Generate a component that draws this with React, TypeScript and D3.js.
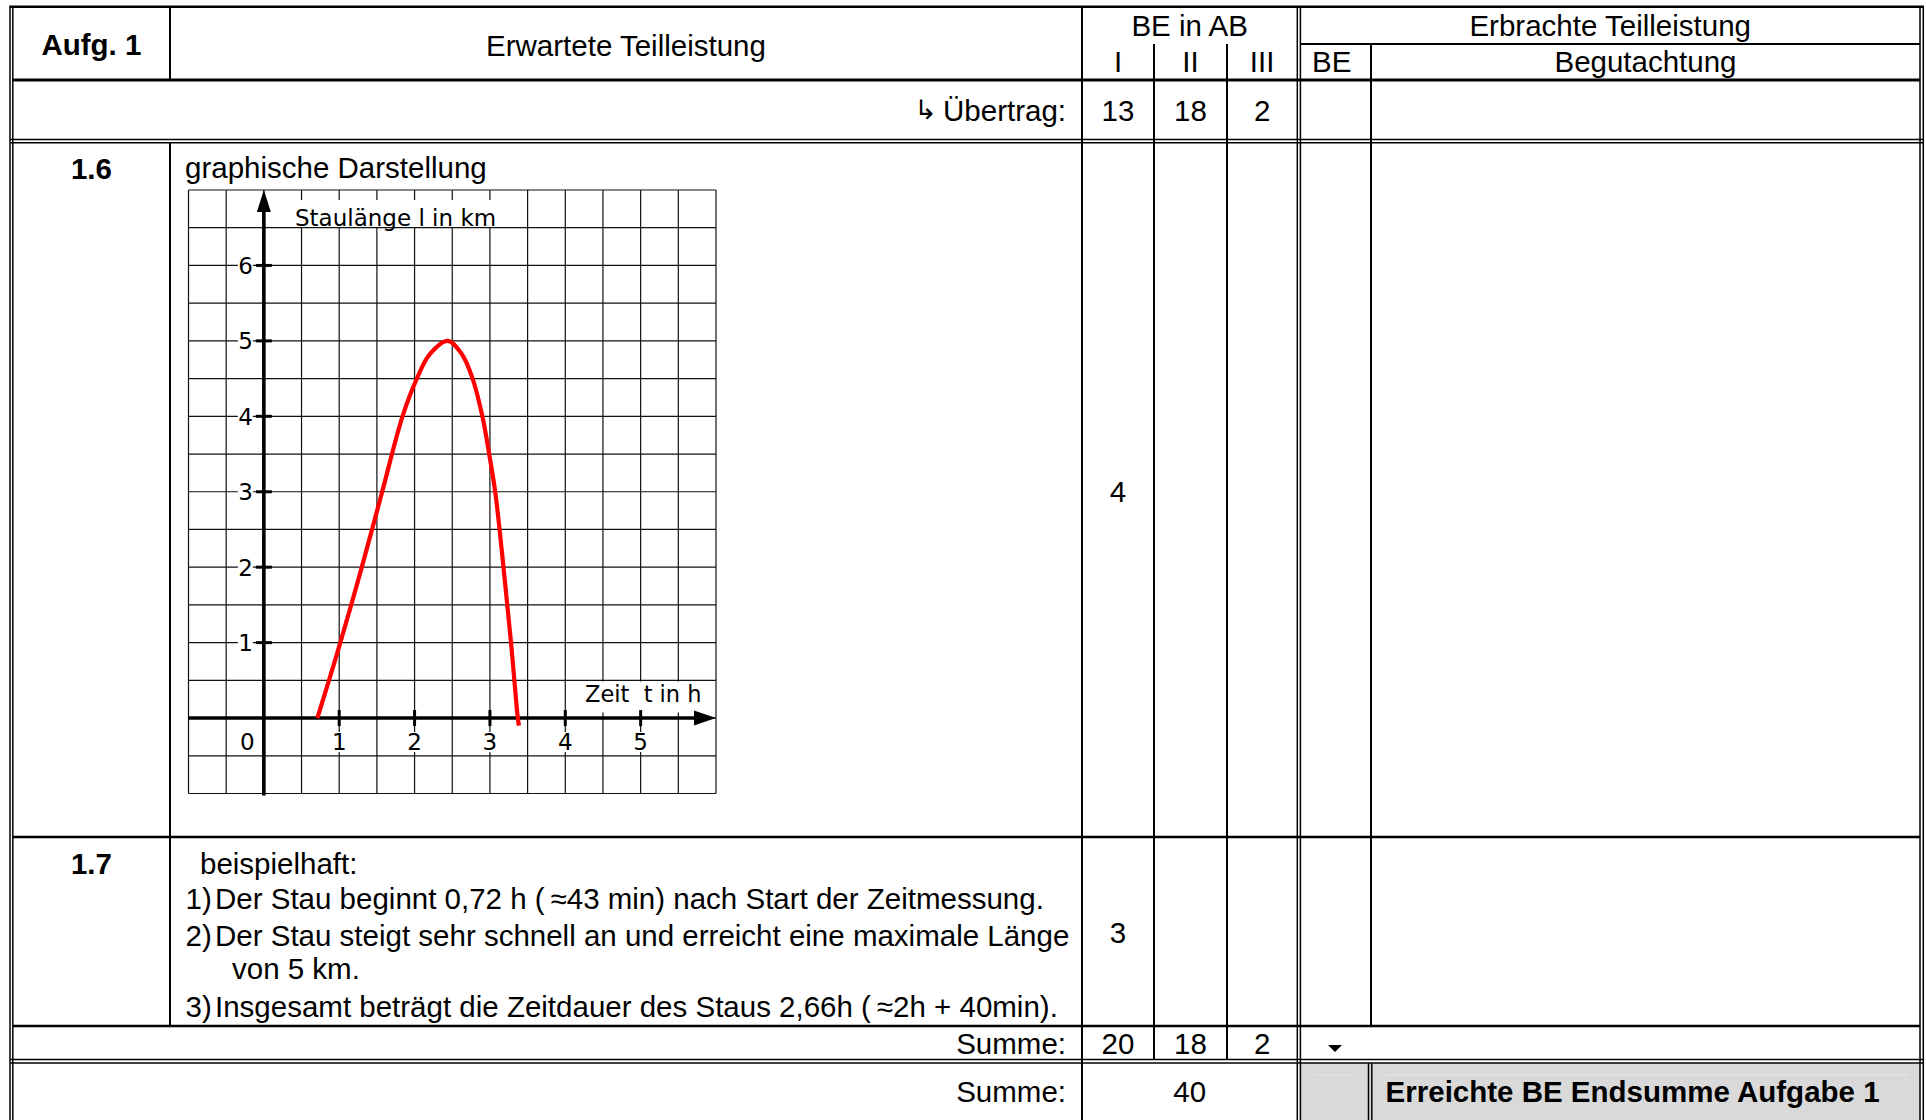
import React from 'react';
import * as d3 from 'd3';

// ---------- data ----------
const beLevels = ['I', 'II', 'III'];
const uebertrag = [13, 18, 2];
const punkte16 = [4];
const punkte17 = [3];
const summe = [20, 18, 2];
const gesamt = 40;

const xTicks = [1, 2, 3, 4, 5];
const yTicks = [1, 2, 3, 4, 5, 6];

// Staulänge l (km) over time t (h)
const tValues = [0.71, 1.0, 1.3, 1.57, 1.84, 2.03, 2.2, 2.44, 2.63, 2.77, 2.9, 2.99, 3.07, 3.18, 3.28, 3.37, 3.385];
const lValues = [0, 0.95, 2.0, 3.0, 4.0, 4.5, 4.82, 5.0, 4.82, 4.5, 4.0, 3.5, 3.0, 2.0, 1.0, 0, -0.1];

const text17 = [
  { num: '1)', body: 'Der Stau beginnt 0,72 h (\u2009\u224843 min) nach Start der Zeitmessung.' },
  { num: '2)', body: 'Der Stau steigt sehr schnell an und erreicht eine maximale Länge' },
  { num: '', body: 'von 5 km.' },
  { num: '3)', body: 'Insgesamt beträgt die Zeitdauer des Staus 2,66h (\u2009\u22482h + 40min).' },
];

// ---------- layout ----------
const W = 1926;
const H = 1120;
const FONT = "'Liberation Sans', Arial, sans-serif";
const CFONT = "'DejaVu Sans', Verdana, sans-serif";
const FS = 29.5;

const X = { l1: 10, l2: 12.8, aufg: 170, cI: 1082, cII: 1154, cIII: 1227, d1: 1297.3, d2: 1300.4, beg: 1371, r1: 1920, r2: 1923.3 };
const Y = { top: 6.7, sub: 44, head: 80, u1: 139.6, u2: 142.8, r16: 837, r17: 1026, s1: 1059.6, s2: 1063, bot: 1120 };
const colCenters = [(X.cI + X.cII) / 2, (X.cII + X.cIII) / 2, (X.cIII + X.d1) / 2];
const lineOffsets17 = [0, 37, 70, 108];

export default function App() {
  const xs = d3.scaleLinear().domain([-1, 6]).range([188.5, 716]);
  const ys = d3.scaleLinear().domain([-1, 7]).range([793.5, 190]);
  const gridX = d3.range(-1, 6.01, 0.5);
  const gridY = d3.range(-1, 7.01, 0.5);
  const pts: [number, number][] = tValues.map((t, i) => [t, lValues[i]]);
  const line = d3.line<[number, number]>().x(d => xs(d[0])).y(d => ys(d[1])).curve(d3.curveCatmullRom.alpha(0.5));

  const hl = (y: number, x1: number, x2: number, w: number, k: string) => (
    <line key={k} x1={x1} x2={x2} y1={y} y2={y} stroke="#000" strokeWidth={w} />
  );
  const vl = (x: number, y1: number, y2: number, w: number, k: string) => (
    <line key={k} x1={x} x2={x} y1={y1} y2={y2} stroke="#000" strokeWidth={w} />
  );

  const x0 = xs(0);
  const y0 = ys(0);
  const tsz = 23;

  return (
    <svg width={W} height={H} viewBox={`0 0 ${W} ${H}`} style={{ position: 'absolute', left: 0, top: 0, background: '#fff' }}>
      <rect x={0} y={0} width={W} height={H} fill="#fff" />
      {/* gray final cells */}
      <rect x={X.d2} y={Y.s2} width={X.r1 - X.d2} height={H - Y.s2} fill="#d9d9d9" />
      <line x1={1385} x2={1908} y1={1075} y2={1075} stroke="#e9e9e9" strokeWidth={1.2} />
      <line x1={1313} x2={1357} y1={1075} y2={1075} stroke="#e3e3e3" strokeWidth={1} />

      {/* ---------- table lines ---------- */}
      {hl(Y.top, X.l1 - 0.7, X.r2 + 0.7, 2.6, 'top')}
      {hl(Y.sub, X.d2, X.r1, 2, 'sub')}
      {hl(Y.head, X.l2, X.r1, 3, 'head')}
      {hl(Y.u1, X.l1, X.r2, 1.5, 'u1')}
      {hl(Y.u2, X.l1, X.r2, 1.5, 'u2')}
      {hl(Y.r16, X.l2, X.r1, 2.5, 'r16')}
      {hl(Y.r17, X.l2, X.r1, 2.5, 'r17')}
      {hl(Y.s1, X.l1, X.r2, 1.5, 's1')}
      {hl(Y.s2, X.l1, X.r2, 1.5, 's2')}

      {vl(X.l1, Y.top, H, 1.5, 'l1')}
      {vl(X.l2, Y.top, H, 1.5, 'l2')}
      {vl(X.r1, Y.top, H, 1.5, 'r1')}
      {vl(X.r2, Y.top, H, 1.5, 'r2')}
      {vl(X.aufg, Y.top, Y.head, 2, 'a1')}
      {vl(X.aufg, Y.u2, Y.r17, 2, 'a2')}
      {vl(X.cI, Y.top, H, 2, 'cI')}
      {vl(X.cII, Y.sub, Y.s1, 2, 'cII')}
      {vl(X.cIII, Y.sub, Y.s1, 2, 'cIII')}
      {vl(X.d1, Y.top, H, 1.5, 'd1')}
      {vl(X.d2, Y.top, H, 1.5, 'd2')}
      {vl(X.beg, Y.sub, Y.r17, 2, 'beg')}
      {vl(1368.5, Y.s2, H, 1.5, 'g1')}
      {vl(1371.8, Y.s2, H, 1.5, 'g2')}

      {/* ---------- header texts ---------- */}
      <g fontFamily={FONT} fontSize={FS} fill="#000">
        <text x={(X.l2 + X.aufg) / 2} y={55} textAnchor="middle" fontWeight="bold">Aufg. 1</text>
        <text x={(X.aufg + X.cI) / 2} y={56} textAnchor="middle">Erwartete Teilleistung</text>
        <text x={(X.cI + X.d1) / 2} y={36} textAnchor="middle">BE in AB</text>
        {beLevels.map((b, i) => (
          <text key={b} x={colCenters[i]} y={72} textAnchor="middle">{b}</text>
        ))}
        <text x={(X.d2 + X.r1) / 2} y={36} textAnchor="middle">Erbrachte Teilleistung</text>
        <text x={1312} y={72}>BE</text>
        <text x={(X.beg + X.r1) / 2} y={72} textAnchor="middle">Begutachtung</text>

        {/* Übertrag */}
        <text x={X.cI - 16} y={121} textAnchor="end">Übertrag:</text>
        {uebertrag.map((v, i) => (
          <text key={'u' + i} x={colCenters[i]} y={121} textAnchor="middle">{v}</text>
        ))}

        {/* 1.6 */}
        <text x={(X.l2 + X.aufg) / 2} y={179} textAnchor="middle" fontWeight="bold">1.6</text>
        <text x={185} y={178}>graphische Darstellung</text>
        {punkte16.map((v, i) => (
          <text key={'p16' + i} x={colCenters[i]} y={502} textAnchor="middle">{v}</text>
        ))}

        {/* 1.7 */}
        <text x={(X.l2 + X.aufg) / 2} y={874} textAnchor="middle" fontWeight="bold">1.7</text>
        <text x={200} y={874}>beispielhaft:</text>
        {text17.map((r, i) => (
          <g key={'t17' + i}>
            {r.num && <text x={185.5} y={909 + lineOffsets17[i]}>{r.num}</text>}
            <text x={r.num ? 215 : 232} y={909 + lineOffsets17[i]}>{r.body}</text>
          </g>
        ))}
        {punkte17.map((v, i) => (
          <text key={'p17' + i} x={colCenters[i]} y={943} textAnchor="middle">{v}</text>
        ))}

        {/* Summe */}
        <text x={X.cI - 16} y={1054} textAnchor="end">Summe:</text>
        {summe.map((v, i) => (
          <text key={'s' + i} x={colCenters[i]} y={1054} textAnchor="middle">{v}</text>
        ))}
        <text x={X.cI - 16} y={1102} textAnchor="end">Summe:</text>
        <text x={(X.cI + X.d1) / 2} y={1102} textAnchor="middle">{gesamt}</text>
        <text x={1385.6} y={1102} fontWeight="bold">Erreichte BE Endsumme Aufgabe 1</text>
      </g>
      <text x={925.5} y={119} fontFamily={CFONT} fontSize={27} textAnchor="middle">↳</text>
      <path d="M1328,1045 L1342,1045 L1335,1052 Z" fill="#000" />

      {/* ---------- chart ---------- */}
      <g>
        {gridX.map(v => (
          <line key={'gx' + v} x1={xs(v)} x2={xs(v)} y1={ys(7)} y2={ys(-1)} stroke="#111" strokeWidth={1.2} />
        ))}
        {gridY.map(v => (
          <line key={'gy' + v} x1={xs(-1)} x2={xs(6)} y1={ys(v)} y2={ys(v)} stroke="#111" strokeWidth={1.2} />
        ))}
        {/* axis title boxes */}
        <rect x={293} y={200} width={205} height={27} fill="#fff" />
        <rect x={583} y={681.5} width={121} height={31} fill="#fff" />
        <text x={295} y={226.3} fontFamily={CFONT} fontSize={23} fill="#000">Staulänge l in km</text>
        <text x={585} y={701.7} fontFamily={CFONT} fontSize={22.5} fill="#000" xmlSpace="preserve">Zeit  t in h</text>

        {/* axes */}
        <line x1={xs(-1)} x2={xs(6) - 18} y1={y0} y2={y0} stroke="#000" strokeWidth={3.6} />
        <path d={`M${xs(6)},${y0} L${xs(6) - 22},${y0 - 7.5} L${xs(6) - 22},${y0 + 7.5} Z`} fill="#000" />
        <line x1={x0} x2={x0} y1={ys(7) + 18} y2={ys(-1) + 2} stroke="#000" strokeWidth={3.6} />
        <path d={`M${x0},${ys(7)} L${x0 - 7},${ys(7) + 22} L${x0 + 7},${ys(7) + 22} Z`} fill="#000" />

        {/* ticks & labels */}
        {yTicks.map(v => (
          <g key={'yt' + v}>
            <rect x={x0 - 26} y={ys(v) - 10} width={15} height={20} fill="#fff" />
            <line x1={x0 - 8} x2={x0 + 8} y1={ys(v)} y2={ys(v)} stroke="#000" strokeWidth={3} />
            <text x={x0 - 11} y={ys(v) + 8.4} fontFamily={CFONT} fontSize={tsz} textAnchor="end">{v}</text>
          </g>
        ))}
        {xTicks.map(v => (
          <g key={'xt' + v}>
            <line x1={xs(v)} x2={xs(v)} y1={y0 - 8} y2={y0 + 8} stroke="#000" strokeWidth={3} />
            <rect x={xs(v) - 8} y={y0 + 14} width={16} height={20} fill="#fff" />
            <text x={xs(v)} y={y0 + 31.5} fontFamily={CFONT} fontSize={tsz} textAnchor="middle">{v}</text>
          </g>
        ))}
        <text x={xs(-0.22)} y={y0 + 31.5} fontFamily={CFONT} fontSize={tsz} textAnchor="middle">0</text>

        {/* curve */}
        <path d={line(pts) || ''} fill="none" stroke="#ff0000" strokeWidth={4.2} />
      </g>
    </svg>
  );
}
